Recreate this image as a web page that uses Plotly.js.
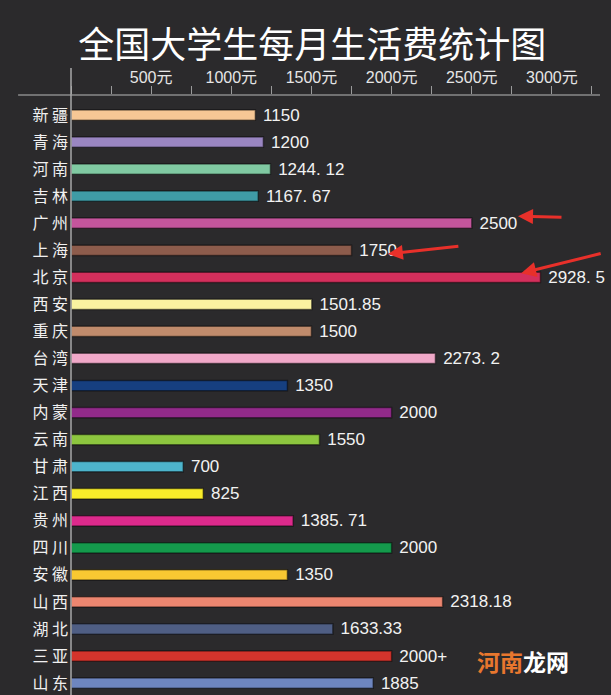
<!DOCTYPE html>
<html>
<head>
<meta charset="utf-8">
<script src="https://cdn.plot.ly/plotly-3.0.1.min.js"></script>
<style>html,body{margin:0;padding:0;background:#2b2a2c;}#chart{width:611px;height:695px;}</style>
</head>
<body>
<div id="chart"></div>
<script>
// ---- data ----
const regions = ["新疆","青海","河南","吉林","广州","上海","北京","西安","重庆","台湾","天津","内蒙","云南","甘肃","江西","贵州","四川","安徽","山西","湖北","三亚","山东"];
const costs = [1150,1200,1244.12,1167.67,2500,1750,2928.5,1501.85,1500,2273.2,1350,2000,1550,700,825,1385.71,2000,1350,2318.18,1633.33,2000,1885];
const costLabels = ["1150","1200","1244. 12","1167. 67","2500","1750","2928. 5","1501.85","1500","2273. 2","1350","2000","1550","700","825","1385. 71","2000","1350","2318.18","1633.33","2000+","1885"];
const barColors = ["#f6c795","#9a86c2","#80c9a2","#3f9ba6","#c4559c","#8d5c4c","#d42f5c","#faf2a0","#c08b6c","#f0a8c8","#163f80","#922a8a","#8dc63f","#4db4cc","#f8ec2a","#dc2a8c","#149a4c","#f8c832","#ec8670","#4f5e84","#d4342c","#6e86c0"];
const tickValues = [500,1000,1500,2000,2500,3000];
const tickLabels = ["500元","1000元","1500元","2000元","2500元","3000元"];
const titleText = "全国大学生每月生活费统计图";

const cjk = '"Noto Sans CJK SC", "Noto Sans", sans-serif';
const latin = '"Liberation Sans", Arial, "Noto Sans CJK SC", sans-serif';

const trace = {
  type: 'bar',
  orientation: 'h',
  y: regions,
  x: costs,
  text: costLabels.map(t => '\u00a0' + t),
  textposition: 'outside',
  cliponaxis: false,
  constraintext: 'none',
  textfont: {family: latin, size: 17, color: '#f2f2f2'},
  width: 0.38,
  marker: {color: barColors, line: {color: 'rgba(0,0,0,0.45)', width: 1.5}},
  hoverinfo: 'x+y'
};

const layout = {
  width: 611, height: 695,
  margin: {l: 71, r: 11, t: 95, b: 0},
  paper_bgcolor: '#2b2a2c',
  plot_bgcolor: '#2b2a2c',
  showlegend: false,
  title: {
    text: titleText,
    font: {family: cjk, size: 36, color: '#ffffff'},
    xref: 'container', x: 0.511, xanchor: 'center',
    yref: 'container', y: 0.934, yanchor: 'middle'
  },
  xaxis: {
    side: 'top',
    range: [0, 3300],
    tickmode: 'array',
    tickvals: tickValues,
    ticktext: tickLabels,
    ticks: 'outside', ticklen: 8, tickcolor: '#9a9a9a', tickwidth: 1,
    minor: {tickmode: 'linear', tick0: 0, dtick: 250, ticks: 'outside', ticklen: 8, tickcolor: '#9a9a9a'},
    tickfont: {family: latin, size: 16, color: '#e6e6e6'},
    ticklabelstandoff: -3,
    showgrid: false, zeroline: false, showline: false,
    fixedrange: true
  },
  yaxis: {
    type: 'category',
    categoryorder: 'array',
    categoryarray: regions,
    range: [21.44, -0.74],
    tickmode: 'array',
    tickvals: regions,
    ticktext: regions.map(r => r.split('').join(' ')),
    tickfont: {family: cjk, size: 16, color: '#f0f0f0'},
    ticks: '', ticklabelstandoff: 2,
    showgrid: false, zeroline: false, showline: false,
    fixedrange: true
  },
  shapes: [
    {type: 'line', xref: 'paper', yref: 'paper', x0: -0.1, x1: 1.0, y0: 1, y1: 1,
     line: {color: '#8a8a8a', width: 1.5}},
    {type: 'line', xref: 'paper', yref: 'paper', x0: 0, x1: 0, y0: 1.045, y1: 0,
     line: {color: '#a8a8a8', width: 1.5}}
  ],
  annotations: [
    {xref: 'paper', yref: 'paper', x: 0.845, y: 0.798, ax: 45, ay: 1, text: '',
     showarrow: true, arrowhead: 2, arrowsize: 1, arrowwidth: 3, arrowcolor: '#e8302a'},
    {xref: 'paper', yref: 'paper', x: 0.599, y: 0.735, ax: 72, ay: -8, text: '',
     showarrow: true, arrowhead: 2, arrowsize: 1, arrowwidth: 3, arrowcolor: '#e8302a'},
    {xref: 'paper', yref: 'paper', x: 0.851, y: 0.703, ax: 81, ay: -20, text: '',
     showarrow: true, arrowhead: 2, arrowsize: 1, arrowwidth: 3, arrowcolor: '#e8302a'},
    {xref: 'paper', yref: 'paper', x: 0.854, y: 0.057, xanchor: 'center', yanchor: 'middle',
     text: '<b><span style="color:#e8772e">河南</span>龙网</b>', showarrow: false,
     font: {family: cjk, size: 23, color: '#ffffff'}}
  ]
};

Plotly.newPlot('chart', [trace], layout, {displayModeBar: false, staticPlot: true});
</script>
</body>
</html>
